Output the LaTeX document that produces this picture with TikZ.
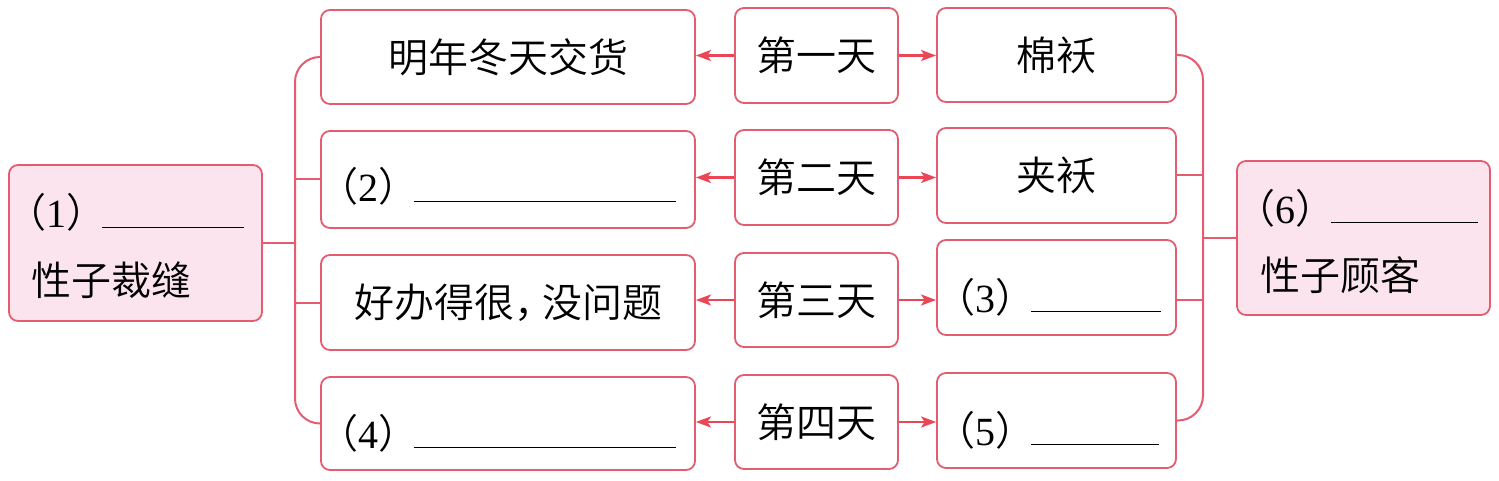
\documentclass[tikz,border=0pt]{standalone}
\usepackage{fontspec}
\setmainfont{Liberation Serif}
\newfontfamily\cjk{Noto Sans CJK SC DemiLight}
\usetikzlibrary{arrows.meta}
\definecolor{boxred}{RGB}{228,92,112}
\definecolor{arrred}{RGB}{235,70,85}
\definecolor{pinkfill}{RGB}{251,228,237}
\newcommand\pn[1]{{\cjk （}#1{\cjk ）}}
\newcommand\blank[1]{\rule{#1pt}{1.3pt}}
\begin{document}
\begin{tikzpicture}[x=1pt,y=-1pt,
  box/.style={draw=boxred, line width=1.8pt, rounded corners=9pt, inner sep=0pt,
    font=\cjk\fontsize{40}{48}\selectfont, fill=white},
  bigbox/.style={box, fill=pinkfill},
  txt/.style={inner sep=0pt, anchor=base west, font=\fontsize{40}{48}\selectfont},
  cjktxt/.style={inner sep=0pt, anchor=west, font=\cjk\fontsize{40}{48}\selectfont},
  link/.style={draw=boxred, line width=2pt},
  arr/.style={draw=arrred, line width=2.2pt, -{Stealth[length=15pt,width=11pt,inset=3.5pt]}}]
\useasboundingbox (0,0) rectangle (1499,481);
% left column
\node[box, minimum width=374pt, minimum height=94pt] (a1) at (508,57) {明年冬天交货};
\node[box, minimum width=374pt, minimum height=97pt] (a2) at (508,179.5) {};
\node[box, minimum width=374pt, minimum height=95pt] (a3) at (508,302.5) {好办得很，\hspace{-0.3em}没问题};
\node[box, minimum width=374pt, minimum height=93pt] (a4) at (508,423.5) {};
% middle column
\node[box, minimum width=163pt, minimum height=95pt] (m1) at (816.5,55.5) {第一天};
\node[box, minimum width=163pt, minimum height=95pt] (m2) at (816.5,177.5) {第二天};
\node[box, minimum width=163pt, minimum height=94pt] (m3) at (816.5,300) {第三天};
\node[box, minimum width=163pt, minimum height=94pt] (m4) at (816.5,422) {第四天};
% right column
\node[box, minimum width=239pt, minimum height=94pt] (b1) at (1056.5,55) {棉袄};
\node[box, minimum width=239pt, minimum height=95pt] (b2) at (1056.5,175.5) {夹袄};
\node[box, minimum width=239pt, minimum height=95pt] (b3) at (1056.5,287.5) {};
\node[box, minimum width=239pt, minimum height=95pt] (b4) at (1056.5,420.5) {};
% big boxes
\node[bigbox, minimum width=253pt, minimum height=156pt] (L) at (135.5,243) {};
\node[bigbox, minimum width=253pt, minimum height=154pt] (R) at (1363.5,238) {};
% texts
\node[txt] (t1) at (6,228) {\pn{1}\hspace{-4pt}\blank{142}};
\node[cjktxt] (t1b) at (31,280) {性子裁缝};
\node[txt] (t6) at (1235,223) {\pn{6}\hspace{-4pt}\blank{147}};
\node[cjktxt] (t6b) at (1260,275) {性子顾客};
\node[txt] (t2) at (318,202) {\pn{2}\hspace{-4pt}\blank{262}};
\node[txt] (t4) at (318,448) {\pn{4}\hspace{-4pt}\blank{262}};
\node[txt] (t3) at (935,312) {\pn{3}\hspace{-4pt}\blank{130}};
\node[txt] (t5) at (935,445) {\pn{5}\hspace{-4pt}\blank{128}};
% arrows
\foreach \i in {1,2,3,4}{
  \draw[arr] (m\i.west) -- (m\i.west -| a\i.east);
  \draw[arr] (m\i.east) -- (m\i.east -| b\i.west);
}
% left bracket
\coordinate (lx) at (295,243);
\draw[link, rounded corners=25pt] (a1.west) -| (lx) |- (a4.west);
\draw[link] (L.east) -- (lx);
\draw[link] (a2.west) -- (a2.west -| lx);
\draw[link] (a3.west) -- (a3.west -| lx);
% right bracket
\coordinate (rx) at (1203,238);
\draw[link, rounded corners=25pt] (b1.east) -| (rx) |- (b4.east);
\draw[link] (R.west) -- (rx);
\draw[link] (b2.east) -- (b2.east -| rx);
\draw[link] (b3.east |- m3) -- (m3 -| rx);
\end{tikzpicture}
\end{document}
